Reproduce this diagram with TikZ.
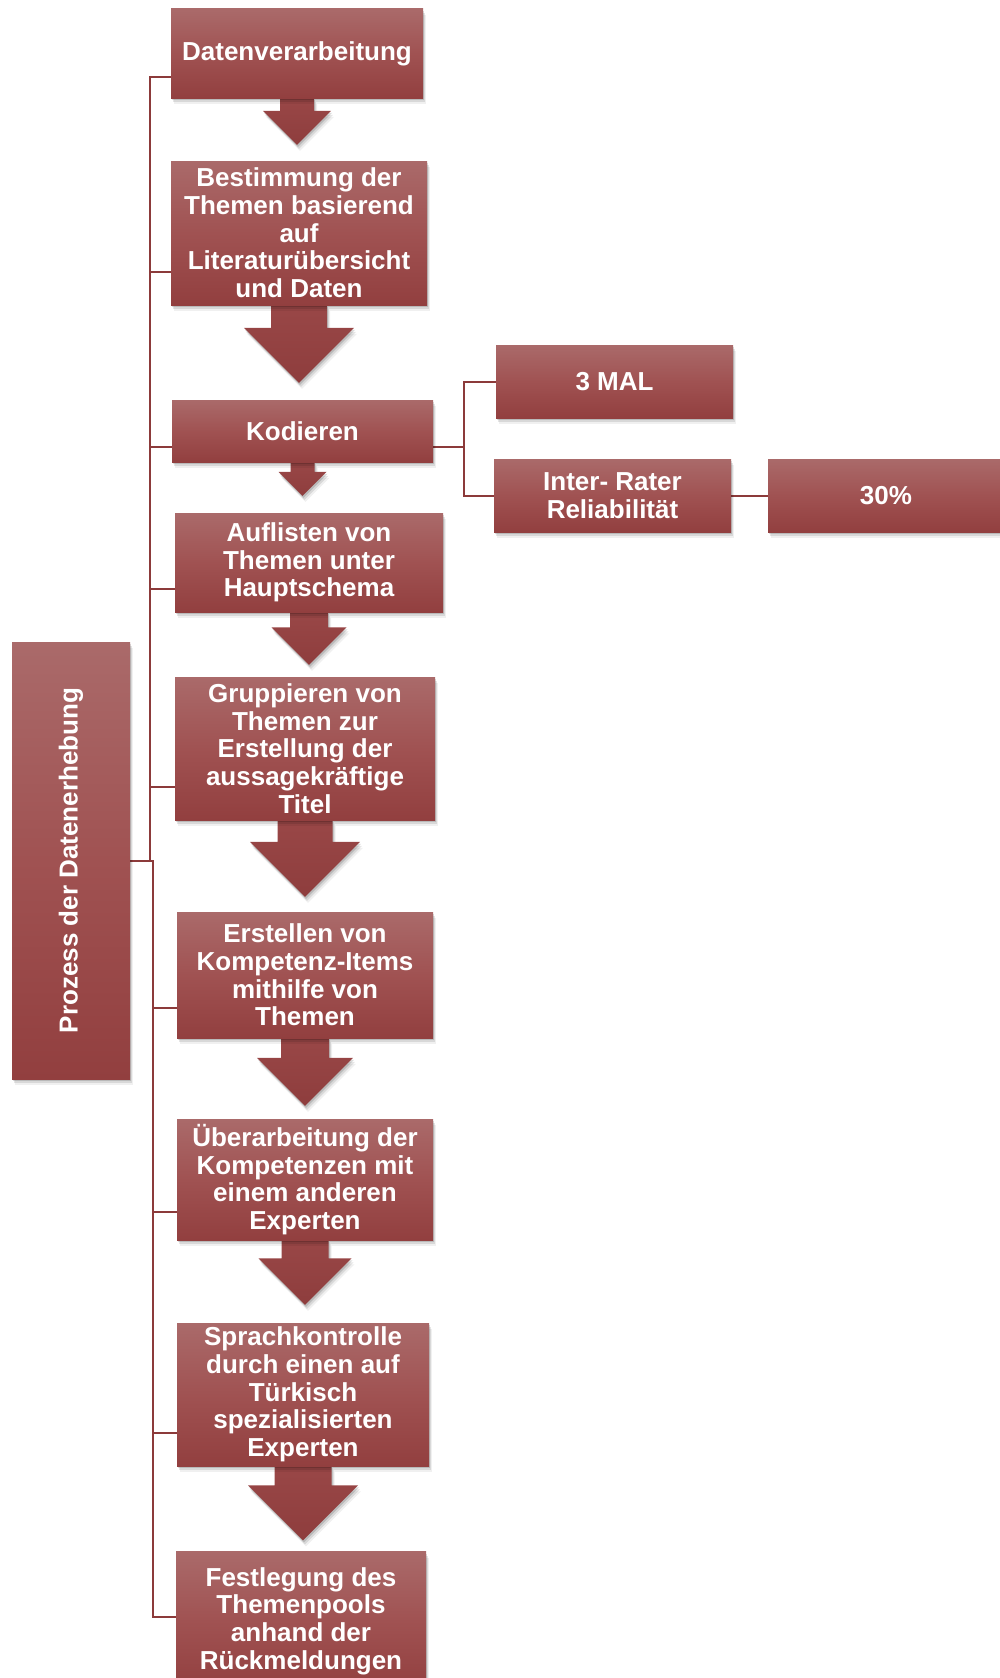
\documentclass[tikz,border=0pt]{standalone}
\usepackage{fontspec}
\setmainfont{Liberation Sans}
\usetikzlibrary{shadows,calc}
\definecolor{btop}{RGB}{170,106,106}
\definecolor{bmid}{RGB}{160,82,82}
\definecolor{bbot}{RGB}{146,63,63}
\definecolor{atop}{RGB}{153,71,71}
\definecolor{abot}{RGB}{142,61,61}
\definecolor{lnc}{RGB}{140,58,58}
\pgfdeclarelayer{bg}
\pgfsetlayers{bg,main}
\tikzset{
  softshadow/.style={
    drop shadow={shadow xshift=1pt,shadow yshift=-2pt,opacity=0.14,fill=black},
    drop shadow={shadow xshift=2pt,shadow yshift=-4pt,opacity=0.10,fill=black},
    drop shadow={shadow xshift=3pt,shadow yshift=-6pt,opacity=0.06,fill=black}},
  box/.style={rectangle, inner sep=0pt, top color=btop, bottom color=bbot, middle color=bmid,
    text=white, font=\bfseries\fontsize{26}{27.7}\selectfont, align=center, softshadow},
  conn/.style={draw=lnc, line width=2pt},
  barrow/.style={top color=atop, bottom color=abot, softshadow}
}
% #1 source, #2 target, #3 stem half width, #4 head half width, #5 gap above target
\newcommand\flowarrow[5]{%
  \path[barrow] let \p1=(#1.south), \p2=(#2.north) in
    (\x1-#3pt,\y1) -- (\x1+#3pt,\y1) -- (\x1+#3pt,\y2+#5pt+#4pt) -- (\x1+#4pt,\y2+#5pt+#4pt)
    -- (\x1,\y2+#5pt) -- (\x1-#4pt,\y2+#5pt+#4pt) -- (\x1-#3pt,\y2+#5pt+#4pt) -- cycle;}
\begin{document}
\begin{tikzpicture}[x=1pt,y=-1pt]
\useasboundingbox (0,0) rectangle (1000,1678);
\clip (0,0) rectangle (1000,1678);

\node[box, minimum width=252pt, minimum height=89pt] (dv) at (297,53.5) {Datenverarbeitung};
\node[box, minimum width=256pt, minimum height=144pt] (best) at (299,233) {Bestimmung der\\Themen basierend\\auf\\Literaturübersicht\\und Daten};
\node[box, minimum width=261pt, minimum height=62pt] (kod) at (302.5,431) {Kodieren};
\node[box, minimum width=268pt, minimum height=99pt] (aufl) at (309,562.5) {Auflisten von\\Themen unter\\Hauptschema};
\node[box, minimum width=260pt, minimum height=143pt] (grup) at (305,748.5) {Gruppieren von\\Themen zur\\Erstellung der\\aussagekräftige\\Titel};
\node[box, minimum width=256pt, minimum height=126pt] (erst) at (305,975) {Erstellen von\\Kompetenz-Items\\mithilfe von\\Themen};
\node[box, minimum width=256pt, minimum height=121pt] (uber) at (305,1179.5) {Überarbeitung der\\Kompetenzen mit\\einem anderen\\Experten};
\node[box, minimum width=252pt, minimum height=143pt] (spra) at (303,1394.5) {Sprachkontrolle\\durch einen auf\\Türkisch\\spezialisierten\\Experten};
\node[box, minimum width=250pt, minimum height=139pt] (fest) at (301,1621) {Festlegung des\\Themenpools\\anhand der\\Rückmeldungen};

\node[box, minimum width=118pt, minimum height=437pt] (proz) at (71,860.5) {\rotatebox{90}{Prozess der Datenerhebung}};

\node[box, minimum width=237pt, minimum height=73pt] (mal) at (614.5,381.5) {3 MAL};
\node[box, minimum width=237pt, minimum height=73pt] (irr) at (612.5,495.5) {Inter- Rater\\Reliabilität};
\node[box, minimum width=236pt, minimum height=73pt] (pct) at (886,495.5) {30\%};

\begin{pgfonlayer}{bg}
  \draw[conn] (proz.east) -- (149.5,860.5) |- (dv.west |- 0,77);
  \draw[conn] (proz.east) -- (149.5,860.5) |- (best.west |- 0,272);
  \draw[conn] (proz.east) -- (149.5,860.5) |- (kod.west |- 0,447);
  \draw[conn] (proz.east) -- (149.5,860.5) |- (aufl.west |- 0,589);
  \draw[conn] (proz.east) -- (149.5,860.5) |- (grup.west |- 0,787);
  \draw[conn] (proz.east) -- (153,860.5) |- (erst.west |- 0,1008);
  \draw[conn] (proz.east) -- (153,860.5) |- (uber.west |- 0,1212);
  \draw[conn] (proz.east) -- (153,860.5) |- (spra.west |- 0,1433);
  \draw[conn] (proz.east) -- (153,860.5) |- (fest.west |- 0,1617);

  \draw[conn] (kod.east |- 0,447) -- (464,447) |- (mal.west);
  \draw[conn] (kod.east |- 0,447) -- (464,447) |- (irr.west);
  \draw[conn] (irr.east) -- (pct.west);

  \flowarrow{dv}{best}{17}{34}{16}
  \flowarrow{best}{kod}{28}{55}{17}
  \flowarrow{kod}{aufl}{12}{24}{17}
  \flowarrow{aufl}{grup}{19}{37.5}{12}
  \flowarrow{grup}{erst}{27.5}{55}{15}
  \flowarrow{erst}{uber}{24}{48}{13}
  \flowarrow{uber}{spra}{23.5}{46.5}{18}
  \flowarrow{spra}{fest}{28.5}{55}{11}
\end{pgfonlayer}
\end{tikzpicture}
\end{document}
